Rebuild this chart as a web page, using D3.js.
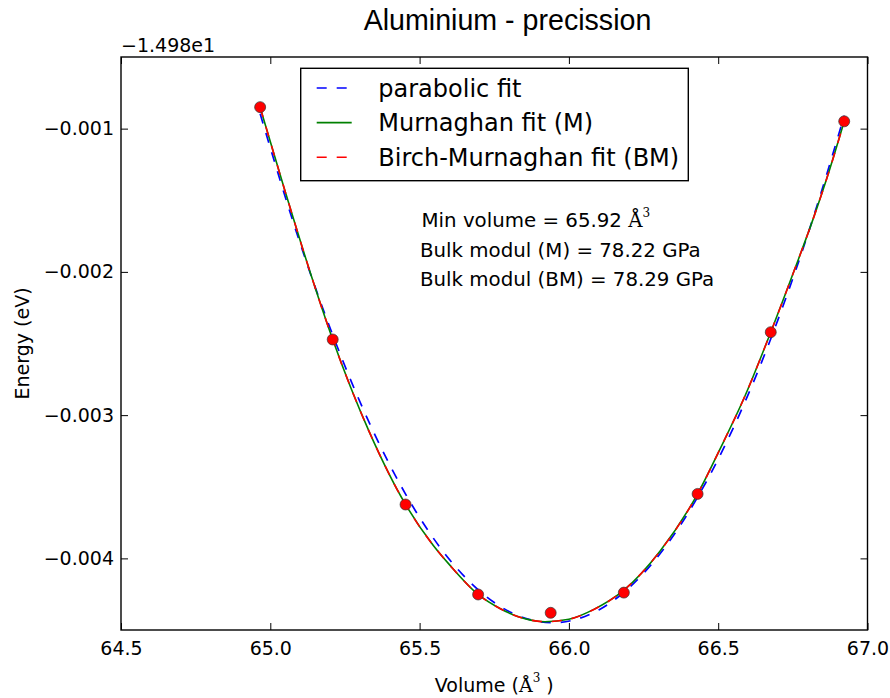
<!DOCTYPE html>
<html>
<head>
<meta charset="utf-8">
<script src="https://cdn.jsdelivr.net/npm/d3@7"></script>
<style>
  body { margin: 0; background: #fff; }
  text { font-family: "DejaVu Sans", sans-serif; fill: #000; }
</style>
</head>
<body>
<div id="chart"></div>
<script>
// Data (energies relative to the axis offset -1.498e1 eV)
const volumes = [64.966, 65.209, 65.453, 65.696, 65.939, 66.184, 66.431, 66.676, 66.922]
const energies = [-0.000850, -0.002472, -0.003624, -0.004252, -0.004380, -0.004239, -0.003550, -0.002421, -0.000949]

// parabolic fit
const parabolaVolumes = [64.966, 65.10, 65.209, 65.35, 65.453, 65.60, 65.75, 65.945, 66.10, 66.25, 66.40, 66.55, 66.70, 66.82, 66.922]
const parabolaEnergies = [-0.000896, -0.001801, -0.002440, -0.003136, -0.003551, -0.004008, -0.004308, -0.004449, -0.004360, -0.004104, -0.003681, -0.003092, -0.002335, -0.001610, -0.000910]

const eosVolumes = [64.966, 65.05, 65.13, 65.209, 65.33, 65.453, 65.546, 65.602, 65.696, 65.769, 65.85, 65.92, 66.00, 66.082, 66.184, 66.305, 66.431, 66.506, 66.59, 66.676, 66.757, 66.818, 66.874, 66.922]
const murnaghanEnergies = [-0.000852, -0.00144, -0.00198, -0.002472, -0.00311, -0.003624, -0.00391, -0.004049, -0.004252, -0.00435, -0.00442, -0.004442, -0.004425, -0.004358, -0.004222, -0.00395, -0.00355, -0.003237, -0.002865, -0.002421, -0.001977, -0.00163, -0.00128, -0.000949]
const birchEnergies = [-0.000852, -0.00144, -0.00198, -0.002472, -0.00311, -0.003624, -0.00391, -0.004049, -0.004252, -0.00435, -0.00442, -0.004442, -0.004425, -0.004358, -0.004222, -0.00395, -0.00355, -0.003237, -0.002865, -0.002421, -0.001977, -0.00163, -0.00128, -0.000949]

const xTicks = [64.5, 65.0, 65.5, 66.0, 66.5, 67.0]
const yTicks = [-0.001, -0.002, -0.003, -0.004]
const legendLabels = ['parabolic fit', 'Murnaghan fit (M)', 'Birch-Murnaghan fit (BM)']
const notes = ['Min volume = 65.92 ', 'Bulk modul (M) = 78.22 GPa', 'Bulk modul (BM) = 78.29 GPa']

// Dimensions
const dimensions = {
  width: 890,
  height: 698,
  margins: { top: 57, right: 22.5, bottom: 68, left: 121 },
}
dimensions.ctrWidth = dimensions.width - dimensions.margins.left - dimensions.margins.right
dimensions.ctrHeight = dimensions.height - dimensions.margins.top - dimensions.margins.bottom

const svg = d3.select('#chart')
  .append('svg')
  .attr('width', dimensions.width)
  .attr('height', dimensions.height)

const ctr = svg.append('g')
  .attr('transform', `translate(${dimensions.margins.left}, ${dimensions.margins.top})`)

// Scales
const xScale = d3.scaleLinear().domain([64.5, 67.0]).range([0, dimensions.ctrWidth])
const yScale = d3.scaleLinear().domain([-0.0045, -0.0005]).range([dimensions.ctrHeight, 0])

// Axes (ticks point inwards, matplotlib classic)
const tickLen = 7
ctr.append('g')
  .attr('transform', `translate(0, ${dimensions.ctrHeight})`)
  .call(d3.axisBottom(xScale).tickValues(xTicks).tickFormat(d3.format('.1f')).tickSize(-tickLen).tickPadding(12))
ctr.append('g')
  .call(d3.axisTop(xScale).tickValues(xTicks).tickFormat('').tickSize(-tickLen))
ctr.append('g')
  .call(d3.axisLeft(yScale).tickValues(yTicks).tickFormat(d3.format('.3f')).tickSize(-tickLen).tickPadding(7))
ctr.append('g')
  .attr('transform', `translate(${dimensions.ctrWidth}, 0)`)
  .call(d3.axisRight(yScale).tickValues(yTicks).tickFormat('').tickSize(-tickLen))

ctr.selectAll('.domain').remove()
ctr.selectAll('.tick line').attr('stroke', '#000').attr('stroke-width', 1)
ctr.selectAll('.tick text')
  .style('font-family', '"DejaVu Sans", sans-serif')
  .style('font-size', '19px')
  .attr('fill', '#000')

// Curves
const line = d3.line()
  .x(d => xScale(d[0]))
  .y(d => yScale(d[1]))
  .curve(d3.curveMonotoneX)

const curves = [
  { pts: d3.zip(parabolaVolumes, parabolaEnergies), color: '#0000ff', dash: '10,10', width: 1.7 },
  { pts: d3.zip(eosVolumes, murnaghanEnergies), color: '#008000', dash: null, width: 1.6 },
  { pts: d3.zip(eosVolumes, birchEnergies), color: '#ff0000', dash: '10,10', width: 1.6 },
]

ctr.append('g')
  .selectAll('path')
  .data(curves)
  .join('path')
  .attr('d', d => line(d.pts))
  .attr('fill', 'none')
  .attr('stroke', d => d.color)
  .attr('stroke-width', d => d.width)
  .attr('stroke-dasharray', d => d.dash)

// Data points
ctr.append('g')
  .selectAll('circle')
  .data(d3.zip(volumes, energies))
  .join('circle')
  .attr('cx', d => xScale(d[0]))
  .attr('cy', d => yScale(d[1]))
  .attr('r', 5.5)
  .attr('fill', '#ff0000')
  .attr('stroke', '#333')
  .attr('stroke-width', 0.7)

// Frame
ctr.append('rect')
  .attr('width', dimensions.ctrWidth)
  .attr('height', dimensions.ctrHeight)
  .attr('fill', 'none')
  .attr('stroke', '#000')
  .attr('stroke-width', 1.4)

// Legend
const legend = svg.append('g').attr('transform', 'translate(300.7, 68.3)')
legend.append('rect')
  .attr('width', 387.6)
  .attr('height', 112.4)
  .attr('fill', '#fff')
  .attr('stroke', '#000')
  .attr('stroke-width', 1.4)

const rows = legend.selectAll('g.row')
  .data(legendLabels)
  .join('g')
  .attr('class', 'row')
  .attr('transform', (d, i) => `translate(0, ${19.7 + i * 34.6})`)

rows.append('line')
  .attr('x1', 16).attr('x2', 51)
  .attr('stroke', (d, i) => curves[i].color)
  .attr('stroke-width', 1.6)
  .attr('stroke-dasharray', (d, i) => curves[i].dash)

rows.append('text')
  .attr('x', 77.6)
  .attr('y', 8.5)
  .style('font-size', '24px')
  .text(d => d)

// Annotation
const notesG = svg.append('g').style('font-size', '19.8px')
notesG.selectAll('text')
  .data(notes)
  .join('text')
  .attr('x', (d, i) => i === 0 ? 421.5 : 420)
  .attr('y', (d, i) => 226.7 + i * 29.8)
  .text(d => d)
  .filter((d, i) => i === 0)
  .call(sel => {
    sel.append('tspan').style('font-family', '"DejaVu Serif", serif').text('Å')
    sel.append('tspan').style('font-family', '"DejaVu Serif", serif').style('font-size', '12px').attr('dy', -10).text('3')
  })

// Title
svg.append('text')
  .attr('x', 507.5)
  .attr('y', 30)
  .attr('text-anchor', 'middle')
  .style('font-family', '"Liberation Sans", Arial, sans-serif')
  .style('font-size', '28.6px')
  .text('Aluminium - precission')

// Offset text
svg.append('text')
  .attr('x', dimensions.margins.left)
  .attr('y', 52)
  .style('font-size', '19px')
  .text('\u22121.498e1')

// Axis labels
const xLabel = svg.append('text')
  .attr('x', dimensions.margins.left + dimensions.ctrWidth / 2)
  .attr('y', 692)
  .attr('text-anchor', 'middle')
  .style('font-size', '19px')
xLabel.append('tspan').text('Volume (')
xLabel.append('tspan').style('font-family', '"DejaVu Serif", serif').text('Å')
xLabel.append('tspan').style('font-family', '"DejaVu Serif", serif').style('font-size', '12px').attr('dy', -10).text('3')
xLabel.append('tspan').attr('dy', 10).text(' )')

svg.append('text')
  .attr('transform', `translate(29, ${dimensions.margins.top + dimensions.ctrHeight / 2}) rotate(-90)`)
  .attr('text-anchor', 'middle')
  .style('font-size', '19px')
  .text('Energy (eV)')
</script>
</body>
</html>
